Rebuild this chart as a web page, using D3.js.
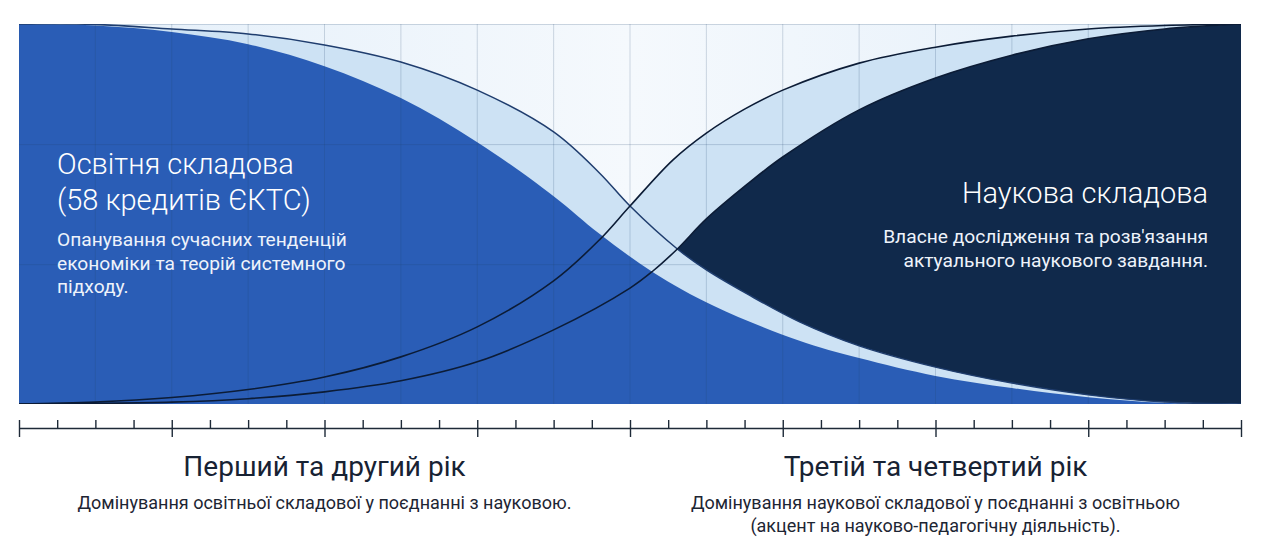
<!DOCTYPE html>
<html>
<head>
<meta charset="utf-8">
<script src="https://cdn.jsdelivr.net/npm/d3@7"></script>
<style>
  body { margin: 0; background: #fff; }
  text { font-family: Roboto, "Noto Sans", sans-serif; }
</style>
</head>
<body>
<div id="chart"></div>
<script>
// x: semesters of study (0..8), y: share of the component, %
// edge of the solid blue area (education)
var eduCore = [[0,100],[0.5,99.6],[1,97.9],[1.5,94.7],[2,88.9],[2.5,80.5],[3,68.9],[3.5,54.7],[3.8,44.8],[4.15,34.7],[4.55,25.8],[5.1,16.8],[5.5,12.1],[6,7.4],[6.5,4.2],[7,1.8],[7.5,0.3],[8,0]];
// thin line above it (education, outer)
var eduBand = [[0,100],[0.5,99.9],[1,98.7],[1.5,97.4],[2,94.5],[2.5,90],[3,82.6],[3.5,71.6],[3.8,60.8],[4,52.1],[4.31,40.8],[4.5,35.3],[4.77,28.9],[5.11,21.6],[5.5,15.3],[6,9.7],[6.5,5.5],[7,2.4],[7.5,0.5],[8,0]];
// thin line, science, outer
var sciBand = [[0,0],[0.5,0.5],[1,1.7],[1.5,3.8],[2,7.1],[2.5,12.4],[3,20.3],[3.5,32.4],[3.8,43.2],[4,52.1],[4.28,64.2],[4.5,71.3],[4.75,77.6],[5,82.6],[5.5,89.7],[6,93.9],[6.5,96.8],[7,98.7],[7.5,99.6],[8,100]];
// edge of the dark navy area (science)
var sciCore = [[0,0],[1,0.5],[1.5,1.4],[2,3.2],[2.5,6.1],[3,11.1],[3.5,19.5],[4,30.5],[4.15,35],[4.31,40.8],[4.5,48.7],[4.77,57.9],[5,65],[5.5,77.4],[6,85.8],[6.5,91.8],[7,96.1],[7.5,98.7],[8,100]];

var gridX = [0,0.5,1,1.5,2,2.5,3,3.5,4,4.5,5,5.5,6,6.5,7,7.5,8];
var gridY = [100, 68.4, 36.8];
var yearTicks = [0,1,2,3,4,5,6,7,8];
var quarterTicks = d3.range(0, 8.25, 0.25);

var eduTitle = ["Освітня складова", "(58 кредитів ЄКТС)"];
var eduText = ["Опанування сучасних тенденцій", "економіки та теорій системного", "підходу."];
var sciTitle = ["Наукова складова"];
var sciText = ["Власне дослідження та розв'язання", "актуального наукового завдання."];
var periods = [
  {at: 2, title: "Перший та другий рік", lines: ["Домінування освітньої складової у поєднанні з науковою."]},
  {at: 6, title: "Третій та четвертий рік", lines: ["Домінування наукової складової у поєднанні з освітньою", "(акцент на науково-педагогічну діяльність)."]}
];

var width = 1269, height = 547;
var plotLeft = 19, plotRight = 1241, plotTop = 24, plotBottom = 404;

var svg = d3.select("#chart").append("svg")
    .attr("width", width)
    .attr("height", height);

var x = d3.scaleLinear().domain([0, 8]).range([plotLeft, plotRight]);
var y = d3.scaleLinear().domain([0, 100]).range([plotBottom, plotTop]);
var smooth = d3.curveCatmullRom.alpha(0.5);

var defs = svg.append("defs");
var bg = defs.append("linearGradient").attr("id", "bg")
    .attr("x1", "0%").attr("x2", "100%").attr("y1", "0%").attr("y2", "0%");
bg.append("stop").attr("offset", "0%").attr("stop-color", "#e2eef9");
bg.append("stop").attr("offset", "50%").attr("stop-color", "#f5f9fd");
bg.append("stop").attr("offset", "100%").attr("stop-color", "#e2eef9");

var under = d3.area()
    .x(function(d) { return x(d[0]); })
    .y0(y(0))
    .y1(function(d) { return y(d[1]); })
    .curve(smooth);
var over = d3.area()
    .x(function(d) { return x(d[0]); })
    .y0(y(100))
    .y1(function(d) { return y(d[1]); })
    .curve(smooth);
var line = d3.line()
    .x(function(d) { return x(d[0]); })
    .y(function(d) { return y(d[1]); })
    .curve(smooth);

defs.append("clipPath").attr("id", "plot")
  .append("rect")
    .attr("x", plotLeft).attr("y", plotTop)
    .attr("width", plotRight - plotLeft).attr("height", plotBottom - plotTop);
// navy area sits above the outer education line
defs.append("clipPath").attr("id", "aboveEdu")
  .append("path").attr("d", over(eduBand));

var plot = svg.append("g").attr("clip-path", "url(#plot)");

plot.append("rect")
    .attr("x", plotLeft).attr("y", plotTop)
    .attr("width", plotRight - plotLeft).attr("height", plotBottom - plotTop)
    .attr("fill", "url(#bg)");

plot.append("path").attr("d", under(eduBand)).attr("fill", "#cde2f4");
plot.append("path").attr("d", under(sciBand)).attr("fill", "#cde2f4");
plot.append("path").attr("d", under(eduCore)).attr("fill", "#2a5db6");

var grid = plot.append("g")
    .attr("stroke", "#24466e")
    .attr("stroke-opacity", 0.2)
    .attr("stroke-width", 1);
grid.selectAll(".gx").data(gridX).enter().append("line")
    .attr("x1", function(d) { return x(d); })
    .attr("x2", function(d) { return x(d); })
    .attr("y1", y(100)).attr("y2", y(0));
grid.selectAll(".gy").data(gridY).enter().append("line")
    .attr("x1", x(0)).attr("x2", x(8))
    .attr("y1", function(d) { return y(d) + 0.5; })
    .attr("y2", function(d) { return y(d) + 0.5; });

plot.append("path")
    .attr("d", under(sciCore))
    .attr("fill", "#10294b")
    .attr("clip-path", "url(#aboveEdu)");

plot.append("path").attr("d", line(eduBand))
    .attr("fill", "none").attr("stroke", "#1f3d6e").attr("stroke-width", 1.5);
plot.append("path").attr("d", line(sciBand))
    .attr("fill", "none").attr("stroke", "#0c1c36").attr("stroke-width", 1.6);
plot.append("path").attr("d", line(sciCore))
    .attr("fill", "none").attr("stroke", "#0c1c36").attr("stroke-width", 1.6);

// time axis
var axisY = 428;
svg.append("g")
    .attr("transform", "translate(0," + axisY + ")")
    .call(d3.axisTop(x).tickValues(quarterTicks).tickSize(8).tickSizeOuter(0).tickFormat(""))
    .call(function(g) {
      g.selectAll("line, path").attr("stroke", "#1e2a38").attr("stroke-width", 1.4);
    });
svg.append("g")
    .attr("transform", "translate(0," + axisY + ")")
    .call(d3.axisBottom(x).tickValues(yearTicks).tickSize(9).tickSizeOuter(0).tickFormat(""))
    .call(function(g) {
      g.select(".domain").remove();
      g.selectAll("line").attr("stroke", "#1e2a38").attr("stroke-width", 1.4);
    });

// labels inside the plot
function block(lines, xpos, y0, step, size, anchor, weight, color) {
  svg.append("g").selectAll("text").data(lines).enter().append("text")
      .attr("x", xpos)
      .attr("y", function(d, i) { return y0 + i * step; })
      .attr("text-anchor", anchor)
      .attr("font-size", size)
      .attr("font-weight", weight)
      .attr("fill", color)
      .text(function(d) { return d; });
}

block(eduTitle, 57, 174, 35.5, 29, "start", 300, "#ffffff");
block(eduText, 57, 246, 23.5, 19.2, "start", 400, "#eef3fb");
block(sciTitle, 1208, 203, 35, 29, "end", 300, "#ffffff");
block(sciText, 1208, 243, 23.5, 19.2, "end", 400, "#eef3fb");

periods.forEach(function(p) {
  block([p.title], x(p.at), 476, 0, 28, "middle", 400, "#172233");
  block(p.lines, x(p.at), 509, 22.5, 18, "middle", 400, "#1d2533");
});
</script>
</body>
</html>
